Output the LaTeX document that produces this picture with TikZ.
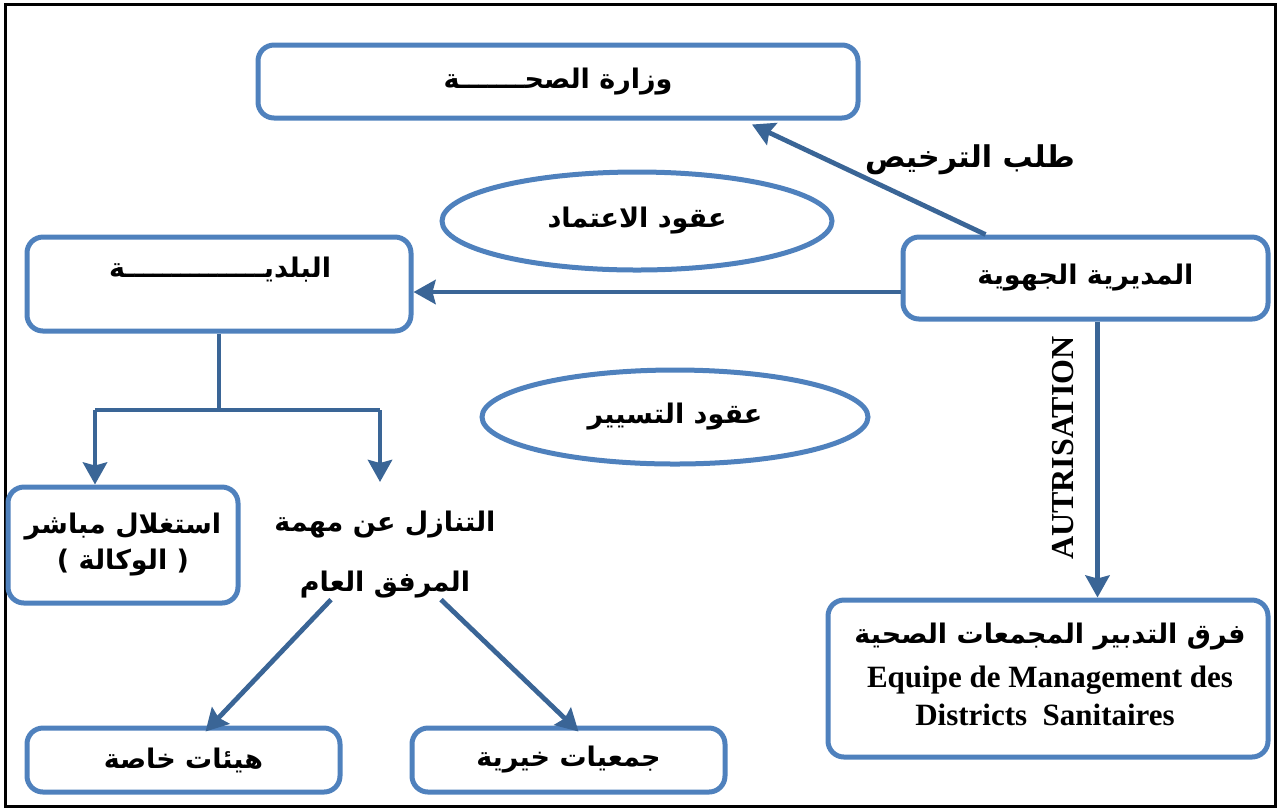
\documentclass[tikz,border=0pt]{standalone}
\usepackage{fontspec}
\setmainfont{Liberation Serif}
\newfontfamily\arabicfont[Script=Arabic]{DejaVu Sans}
\TeXXeTstate=1
\usetikzlibrary{arrows.meta,shapes.geometric}
\definecolor{boxblue}{HTML}{4F81BD}
\definecolor{arrowblue}{HTML}{3A6596}
\newcommand{\arline}[1]{\beginR #1\endR}
\tikzset{
  box/.style={draw=boxblue, line width=2.5pt, rounded corners=8pt, fill=white, align=center, inner sep=0pt},
  oval/.style={ellipse, draw=boxblue, line width=2.5pt, fill=white, inner sep=0pt},
  arr/.style={draw=arrowblue, line width=2.4pt, -{Stealth[length=11pt,width=12pt,inset=1.5pt]}},
  conn/.style={draw=arrowblue, line width=2.4pt},
  lbl/.style={font=\arabicfont\bfseries\fontsize{13.5}{18}\selectfont, align=center},
  latin/.style={font=\bfseries\fontsize{15.5}{18}\selectfont}
}
\begin{document}
\begin{tikzpicture}[x=0.5pt,y=-0.5pt]
  \useasboundingbox (0,0) rectangle (1280,811);
  \draw[line width=1.5pt] (5,4) rectangle (1275,806);
  % boxes
  \node[box, lbl, minimum width=300pt, minimum height=36.5pt] (min) at (558,81.5) {\arline{وزارة الصحـــــــة}};
  \node[box, minimum width=192pt, minimum height=47pt] (bal) at (219,284) {};
  \node[lbl] (baltxt) at (220,270) {\arline{البلديـــــــــــــــة}};
  \node[box, lbl, minimum width=182.5pt, minimum height=41pt] (reg) at (1085.5,278) {\arline{المديرية الجهوية}};
  \node[oval, lbl, minimum width=195pt, minimum height=49pt] (acc) at (637,221) {\arline{عقود الاعتماد}};
  \node[oval, lbl, minimum width=193pt, minimum height=47pt] (ges) at (675,417) {\arline{عقود التسيير}};
  \node[box, lbl, minimum width=115pt, minimum height=58pt] (dir) at (123,545)
    {\arline{استغلال مباشر}\\ ) \arline{الوكالة} (};
  \node[lbl] (tan) at (385,525) {\arline{التنازل عن مهمة}};
  \node[lbl] (mur) at (385,585) {\arline{المرفق العام}};
  \node[box, lbl, minimum width=156.5pt, minimum height=32pt] (prv) at (183.5,760) {\arline{هيئات خاصة}};
  \node[box, lbl, minimum width=156.5pt, minimum height=32pt] (chr) at (568.5,760) {\arline{جمعيات خيرية}};
  \node[box, minimum width=220pt, minimum height=78.5pt] (eq) at (1048,678.5) {};
  \node[lbl] (eqar) at (1050,637) {\arline{فرق التدبير المجمعات الصحية}};
  \node[latin] (eqfr1) at (1050,680) {Equipe de Management des};
  \node[latin] (eqfr2) at (1045,715) {Districts\ \ Sanitaires};
  % labels
  \node[lbl, font=\arabicfont\bfseries\fontsize{15}{18}\selectfont] (req) at (970,160) {\arline{طلب الترخيص}};
  \node[latin, rotate=90, font=\bfseries\fontsize{16}{18}\selectfont] (aut) at (1063,448) {AUTRISATION};
  % connectors
  \draw[arr] ([xshift=-50pt]reg.north) -- ([xshift=97pt,yshift=-2pt]min.south);
  \draw[arr] ([yshift=-7pt]reg.west) -- ([yshift=-7pt]reg.west -| bal.east);
  \coordinate (split) at (219,410);
  \coordinate (lft) at (95,410);
  \coordinate (rgt) at (380,410);
  \draw[conn] (bal.south) -- (split);
  \draw[conn] (lft) -- (rgt);
  \draw[arr] (lft) -- (lft |- dir.north);
  \draw[arr] (rgt) -- (380,482);
  \draw[arr] ([xshift=-27pt,yshift=3pt]mur.south) -- ([xshift=11pt,yshift=-3pt]prv.north);
  \draw[arr] ([xshift=28pt,yshift=3pt]mur.south) -- ([xshift=5pt,yshift=-3pt]chr.north);
  \draw[arr] ([xshift=6pt]reg.south) -- ([xshift=6pt]reg.south |- eq.north);
\end{tikzpicture}
\end{document}
